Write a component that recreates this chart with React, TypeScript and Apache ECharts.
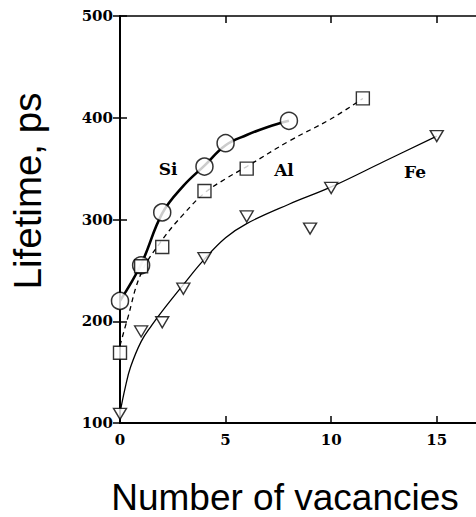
import React, { useEffect, useRef } from "react";
import * as echarts from "echarts";

// Measured points
const siPoints: [number, number][] = [[0, 220], [1, 255], [2, 307], [4, 352], [5, 375], [8, 397]];
const alPoints: [number, number][] = [[0, 169], [1, 254], [2, 273], [4, 328], [6, 350], [11.5, 419]];
const fePoints: [number, number][] = [[0, 109], [1, 190], [2, 199], [3, 232], [4, 262], [6, 303], [9, 291], [10, 331], [15, 382]];

// Fitted guide curves
const siFit: [number, number][] = [[0, 220], [1, 256], [2, 306], [3, 333], [4, 353], [5, 373], [6, 383], [7, 391], [8, 397]];
const alFit: [number, number][] = [[0, 176], [0.35, 202], [1, 247], [2, 280], [3, 305], [4, 326], [5, 340], [6, 352], [8, 377], [10, 399], [11.5, 419]];
const feFit: [number, number][] = [[0, 110], [0.25, 135], [0.5, 155], [1, 180], [1.5, 196], [2, 210], [3, 236], [4, 261], [5, 282], [6, 296], [8, 315], [10, 332], [12.5, 357], [15, 382]];

const xTicks = { min: 0, max: 17, interval: 5 };
const yTicks = { min: 100, max: 500, interval: 100 };

const seriesLabels = ["Si", "Al", "Fe"];

const TRI_DOWN = "path://M0,0L10,0L5,8.7Z";

export default function App() {
  const ref = useRef<HTMLDivElement>(null);
  useEffect(() => {
    if (!ref.current) return;
    const chart = echarts.init(ref.current, null, { renderer: "svg" });
    const serif = "DejaVu Serif";
    const tickLabel = { fontFamily: serif, fontSize: 15, fontWeight: "bold" as const, color: "#000" };
    const baseX = {
      type: "value" as const,
      min: xTicks.min,
      max: xTicks.max,
      interval: xTicks.interval,
      splitLine: { show: false },
      axisTick: { inside: true, length: 7, lineStyle: { color: "#000", width: 1.5 } },
    };
    const baseY = {
      type: "value" as const,
      min: yTicks.min,
      max: yTicks.max,
      interval: yTicks.interval,
      splitLine: { show: false },
      axisTick: { inside: true, length: 7, lineStyle: { color: "#000", width: 1.5 } },
    };
    const marker = (color = "#fff") => ({ color, borderColor: "#000", borderWidth: 1.4 });
    chart.setOption({
      animation: false,
      backgroundColor: "#fff",
      grid: { left: 120, top: 16, width: 359, height: 407, outerBoundsMode: "none", containLabel: false },
      xAxis: [
        {
          ...baseX,
          position: "bottom",
          axisLine: { lineStyle: { color: "#000", width: 2 } },
          axisLabel: {
            ...tickLabel,
            margin: 9,
            formatter: (v: number) => (v % xTicks.interval === 0 ? String(v) : ""),
          },
        },
        {
          ...baseX,
          position: "top",
          axisLine: { lineStyle: { color: "#000", width: 1.5 } },
          axisLabel: { show: false },
        },
      ],
      yAxis: [
        {
          ...baseY,
          position: "left",
          axisLine: { lineStyle: { color: "#000", width: 2 } },
          axisLabel: { ...tickLabel, margin: 7 },
        },
        {
          ...baseY,
          position: "right",
          axisLine: { lineStyle: { color: "#000", width: 1.5 } },
          axisLabel: { show: false },
        },
      ],
      series: [
        {
          type: "line",
          data: siFit,
          smooth: 0.4,
          showSymbol: false,
          lineStyle: { color: "#000", width: 2.6 },
          z: 2,
        },
        {
          type: "line",
          data: alFit,
          smooth: 0.4,
          showSymbol: false,
          lineStyle: { color: "#000", width: 1.3, type: [5, 4] },
          z: 2,
        },
        {
          type: "line",
          data: feFit,
          smooth: 0.4,
          showSymbol: false,
          lineStyle: { color: "#000", width: 1.3 },
          z: 2,
        },
        {
          type: "scatter",
          data: fePoints,
          symbol: TRI_DOWN,
          symbolSize: [13, 11],
          itemStyle: marker(),
          z: 3,
        },
        {
          type: "scatter",
          data: siPoints,
          symbol: "circle",
          symbolSize: 17,
          itemStyle: { color: "#fff", borderColor: "#000", borderWidth: 1.5 },
          z: 4,
        },
        {
          type: "scatter",
          data: alPoints,
          symbol: "rect",
          symbolSize: 13,
          itemStyle: marker(),
          z: 5,
        },
      ],
      graphic: [
        {
          type: "text",
          x: 168,
          y: 169,
          style: { text: seriesLabels[0], font: `bold 17px "${serif}"`, fill: "#000", align: "center", verticalAlign: "middle" },
        },
        {
          type: "text",
          x: 284,
          y: 170,
          style: { text: seriesLabels[1], font: `bold 17px "${serif}"`, fill: "#000", align: "center", verticalAlign: "middle" },
        },
        {
          type: "text",
          x: 415,
          y: 172,
          style: { text: seriesLabels[2], font: `bold 17px "${serif}"`, fill: "#000", align: "center", verticalAlign: "middle" },
        },
        {
          type: "text",
          x: 285,
          y: 497,
          style: { text: "Number of vacancies", font: '37px "Liberation Sans"', fill: "#000", align: "center", verticalAlign: "middle" },
        },
        {
          type: "text",
          x: 27,
          y: 191,
          rotation: Math.PI / 2,
          style: { text: "Lifetime, ps", font: '38.5px "Liberation Sans"', fill: "#000", align: "center", verticalAlign: "middle" },
        },
      ],
    });
    return () => chart.dispose();
  }, []);
  return (
    <div
      ref={ref}
      style={{ position: "absolute", left: 0, top: 0, width: 476, height: 517, background: "#fff" }}
    />
  );
}
